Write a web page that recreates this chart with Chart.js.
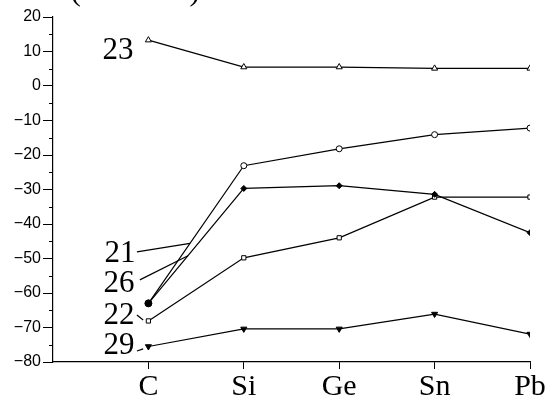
<!DOCTYPE html>
<html>
<head>
<meta charset="utf-8">
<script src="https://cdn.jsdelivr.net/npm/chart.js@4/dist/chart.umd.min.js"></script>
<style>
  html, body { margin: 0; padding: 0; background: #fff; }
  #wrap { width: 552px; height: 402px; }
</style>
</head>
<body>
<div id="wrap"><canvas id="c"></canvas></div>
<script>
// categories sit at x = 1..5, x = 0 is the y axis
const elements = ['C', 'Si', 'Ge', 'Sn', 'Pb'];
const yTicks = [20, 10, 0, -10, -20, -30, -40, -50, -60, -70, -80];

const s23 = [13.3, 5.5, 5.5, 5.1, 5.1];
const s21 = [-63.0, -23.1, -18.2, -14.1, -12.2];
const s26 = [-63.0, -29.7, -28.9, -31.4, -42.5];
const s22 = [-68.1, -49.8, -44.0, -32.2, -32.2];
const s29 = [-75.5, -70.4, -70.4, -66.1, -71.9];

// series labels, in data units (x, baseline y)
const seriesLabels = [
  { text: '23', x: 0.52, y: 7.8 },
  { text: '21', x: 0.54, y: -51.0 },
  { text: '26', x: 0.53, y: -59.7 },
  { text: '22', x: 0.53, y: -69.0 },
  { text: '29', x: 0.53, y: -77.7 }
];
// leader lines from label to curve, data units
const leaders = [
  [0.88, -48.1, 1.436, -45.6],
  [0.91, -56.2, 1.415, -49.2],
  [0.88, -66.4, 0.945, -67.8],
  [0.88, -76.8, 0.945, -76.2]
];

const toPts = (arr) => arr.map((v, i) => ({ x: i + 1, y: v }));

const annot = {
  id: 'annot',
  afterDraw(chart) {
    const ctx = chart.ctx;
    const xs = chart.scales.x, ys = chart.scales.y;
    ctx.save();
    // minor ticks on y axis
    ctx.strokeStyle = '#000';
    ctx.lineWidth = 1;
    for (let v = -75; v <= 15; v += 10) {
      const py = Math.round(ys.getPixelForValue(v)) + 0.5;
      ctx.beginPath();
      ctx.moveTo(xs.left - 4, py);
      ctx.lineTo(xs.left, py);
      ctx.stroke();
    }
    ctx.lineWidth = 1.2;
    leaders.forEach(([x1, y1, x2, y2]) => {
      ctx.beginPath();
      ctx.moveTo(xs.getPixelForValue(x1), ys.getPixelForValue(y1));
      ctx.lineTo(xs.getPixelForValue(x2), ys.getPixelForValue(y2));
      ctx.stroke();
    });
    ctx.fillStyle = '#000';
    ctx.font = '31px "Liberation Serif"';
    ctx.textAlign = 'left';
    ctx.textBaseline = 'alphabetic';
    seriesLabels.forEach(l => {
      ctx.fillText(l.text, xs.getPixelForValue(l.x), ys.getPixelForValue(l.y));
    });
    // axis title, cut off at the top edge
    ctx.fillText('\u0394E (kcal/mol)', 24, 0);
    ctx.restore();
  }
};

const base = {
  borderColor: '#000',
  borderWidth: 1.2,
  pointBorderColor: '#000',
  pointBorderWidth: 1,
  tension: 0,
  fill: false
};

new Chart(document.getElementById('c'), {
  type: 'line',
  data: {
    datasets: [
      Object.assign({}, base, { label: '23', data: toPts(s23), pointStyle: 'triangle', pointRadius: 3.5, pointBackgroundColor: '#fff' }),
      Object.assign({}, base, { label: '21', data: toPts(s21), pointStyle: 'circle', pointRadius: 3, pointBackgroundColor: ['#000', '#fff', '#fff', '#fff', '#fff'] }),
      Object.assign({}, base, { label: '26', data: toPts(s26), pointStyle: ['circle', 'rectRot', 'rectRot', 'rectRot', 'rectRot'], pointRadius: [3.5, 3, 3, 3, 3], pointBackgroundColor: '#000' }),
      Object.assign({}, base, { label: '22', data: toPts(s22), pointStyle: 'rect', pointRadius: 3, pointBackgroundColor: '#fff' }),
      Object.assign({}, base, { label: '29', data: toPts(s29), pointStyle: 'triangle', rotation: 180, pointRadius: 3.5, pointBackgroundColor: '#000' })
    ]
  },
  options: {
    responsive: true,
    maintainAspectRatio: false,
    animation: false,
    layout: { padding: { top: 17, right: 22, left: 0, bottom: 0 } },
    plugins: { legend: { display: false }, tooltip: { enabled: false } },
    scales: {
      x: {
        type: 'linear',
        min: 0,
        max: 5,
        afterBuildTicks: (axis) => { axis.ticks = elements.map((e, i) => ({ value: i + 1 })); },
        afterFit: (axis) => { axis.height = 40; },
        border: { display: true, color: '#000', width: 1.2 },
        grid: { display: true, drawOnChartArea: false, drawTicks: true, tickLength: 7, color: '#000' },
        ticks: {
          color: '#000',
          padding: 3,
          maxRotation: 0,
          autoSkip: false,
          font: { family: 'Liberation Serif', size: 30, lineHeight: 1 },
          callback: (v) => elements[v - 1] || ''
        }
      },
      y: {
        min: -80,
        max: 20,
        afterBuildTicks: (axis) => { axis.ticks = yTicks.map(v => ({ value: v })); },
        afterFit: (axis) => { axis.width = 53; },
        border: { display: true, color: '#000', width: 1.2 },
        grid: { display: true, drawOnChartArea: false, drawTicks: true, tickLength: 10, color: '#000' },
        ticks: {
          color: '#000',
          padding: 2,
          font: { family: 'Liberation Sans', size: 16 },
          callback: (v) => (v < 0 ? '\u2212' + Math.abs(v) : String(v))
        }
      }
    }
  },
  plugins: [annot]
});
</script>
</body>
</html>
